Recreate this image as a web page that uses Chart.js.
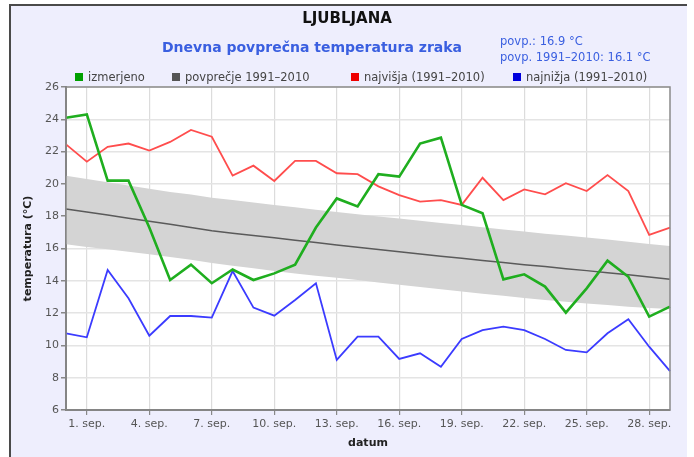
<!DOCTYPE html>
<html>
<head>
<meta charset="utf-8">
<script src="https://cdn.jsdelivr.net/npm/chart.js@4.4.1/dist/chart.umd.min.js"></script>
<style>
  html,body{margin:0;padding:0;background:#fff;}
  #wrap{position:relative;width:694px;height:457px;overflow:hidden;font-family:"DejaVu Sans",Verdana,sans-serif;}
  #panel{position:absolute;left:9px;top:4px;width:678px;height:470px;background:#eeeefd;border-top:2px solid #4a4a4a;border-left:2px solid #4a4a4a;box-sizing:border-box;}
  canvas{position:absolute;left:0;top:0;}
  .t{position:absolute;white-space:nowrap;}
  #title{left:0;width:694px;text-align:center;top:9px;font-size:15px;font-weight:bold;color:#111;}
  #sub{left:160px;width:304px;text-align:center;top:39px;font-size:14px;font-weight:bold;color:#3a5fe0;}
  #info{left:500px;top:33px;font-size:11.5px;line-height:16px;color:#3a5fe0;}
  .lg{position:absolute;top:70px;font-size:11.5px;color:#444;white-space:nowrap;}
  .sq{display:inline-block;width:8px;height:8px;margin-right:5px;vertical-align:0px;}
</style>
</head>
<body>
<div id="wrap">
  <div id="panel"></div>
  <canvas id="c" width="694" height="457"></canvas>
  <div class="t" id="title">LJUBLJANA</div>
  <div class="t" id="sub">Dnevna povprečna temperatura zraka</div>
  <div class="t" id="info">povp.: 16.9 °C<br>povp. 1991–2010: 16.1 °C</div>
  <div class="lg" style="left:75px"><span class="sq" style="background:#00a000"></span>izmerjeno</div>
  <div class="lg" style="left:172px"><span class="sq" style="background:#555"></span>povprečje 1991–2010</div>
  <div class="lg" style="left:351px"><span class="sq" style="background:#ee0000"></span>najvišja (1991–2010)</div>
  <div class="lg" style="left:513px"><span class="sq" style="background:#0000dd"></span>najnižja (1991–2010)</div>
</div>
<script>
const days = ['31. avg.','1. sep.','2. sep.','3. sep.','4. sep.','5. sep.','6. sep.','7. sep.','8. sep.','9. sep.',
  '10. sep.','11. sep.','12. sep.','13. sep.','14. sep.','15. sep.','16. sep.','17. sep.','18. sep.','19. sep.',
  '20. sep.','21. sep.','22. sep.','23. sep.','24. sep.','25. sep.','26. sep.','27. sep.','28. sep.','29. sep.'];
const measured = [24.1,24.3,20.2,20.2,17.3,14.05,15.0,13.85,14.7,14.05,14.46,15.0,17.3,19.1,18.6,20.6,20.45,22.5,22.86,18.7,18.18,14.09,14.4,13.64,12.03,13.53,15.25,14.25,11.78,12.4];
const average = [18.45,18.26,18.07,17.88,17.69,17.5,17.3,17.1,16.95,16.8,16.66,16.51,16.37,16.22,16.08,15.94,15.8,15.66,15.52,15.39,15.26,15.13,15.0,14.88,14.75,14.63,14.5,14.37,14.23,14.1];
const bandUpper = [20.5,20.3,20.1,19.9,19.7,19.5,19.35,19.15,19.0,18.85,18.7,18.55,18.4,18.26,18.12,17.98,17.85,17.72,17.58,17.45,17.32,17.18,17.05,16.92,16.8,16.68,16.55,16.42,16.28,16.15];
const bandLower = [16.26,16.1,15.95,15.8,15.65,15.48,15.3,15.1,14.93,14.77,14.6,14.45,14.32,14.19,14.05,13.9,13.76,13.62,13.48,13.34,13.2,13.07,12.94,12.81,12.7,12.6,12.5,12.4,12.32,12.25];
const highest = [22.45,21.38,22.3,22.5,22.06,22.6,23.34,22.92,20.51,21.13,20.18,21.42,21.42,20.66,20.6,19.85,19.31,18.9,19.0,18.7,20.38,19.0,19.66,19.35,20.04,19.56,20.55,19.56,16.84,17.29];
const lowest = [10.75,10.5,14.67,12.92,10.6,11.82,11.82,11.72,14.6,12.34,11.84,12.81,13.84,9.1,10.54,10.54,9.16,9.51,8.68,10.4,10.95,11.16,10.95,10.4,9.72,9.57,10.75,11.62,9.92,8.41];
const yTicks = [6,8,10,12,14,16,18,20,22,24,26];

const plotBg = {
  id:'plotBg',
  beforeDraw(chart){
    const {ctx, chartArea:a} = chart;
    ctx.save(); ctx.fillStyle='#fff'; ctx.fillRect(a.left,a.top,a.right-a.left,a.bottom-a.top); ctx.restore();
  },
  afterDraw(chart){
    const {ctx, chartArea:a} = chart;
    ctx.save(); ctx.strokeStyle='#8a8a8a'; ctx.lineWidth=1.5;
    ctx.strokeRect(a.left,a.top,a.right-a.left,a.bottom-a.top); ctx.restore();
  }
};

const FAM = '"DejaVu Sans", Verdana, sans-serif';
const tickFont = {family:FAM, size:11};
new Chart(document.getElementById('c'), {
  type:'line',
  data:{
    labels: days,
    datasets:[
      {label:'lower', data:bandLower, borderWidth:0, pointRadius:0, fill:false, order:5, borderColor:'rgba(0,0,0,0)'},
      {label:'upper', data:bandUpper, borderWidth:0, pointRadius:0, fill:'-1', backgroundColor:'#d4d4d4', order:4, borderColor:'rgba(0,0,0,0)'},
      {label:'povprečje 1991–2010', data:average, borderColor:'#5a5a5a', borderWidth:1.5, pointRadius:0, fill:false, order:3},
      {label:'najvišja (1991–2010)', data:highest, borderColor:'#ff4d4d', borderWidth:1.8, pointRadius:0, fill:false, order:2},
      {label:'najnižja (1991–2010)', data:lowest, borderColor:'#3b3bff', borderWidth:1.8, pointRadius:0, fill:false, order:1},
      {label:'izmerjeno', data:measured, borderColor:'#1fae1f', borderWidth:2.6, pointRadius:0, fill:false, order:0}
    ]
  },
  options:{
    responsive:false, animation:false,
    layout:{padding:{left:18, top:87, right:24, bottom:0}},
    plugins:{legend:{display:false}, tooltip:{enabled:false}},
    scales:{
      x:{
        type:'category', offset:false,
        afterFit(s){ s.height = 47; },
        grid:{
          color:(c)=> (c.index%3===1 ? '#dcdcdc' : 'rgba(0,0,0,0)'),
          tickColor:(c)=> (c.index%3===1 ? '#888' : 'rgba(0,0,0,0)'),
          tickLength:5, lineWidth:1.2, drawOnChartArea:true
        },
        border:{display:true, color:'#777', width:2},
        ticks:{autoSkip:false, maxRotation:0, minRotation:0, padding:3, color:'#555', font:tickFont,
          callback:(v,i)=> (i%3===1 ? days[i] : '')},
        title:{display:true, text:'datum', color:'#222', font:{family:FAM, size:11, weight:'bold'}, padding:{top:2,bottom:7}}
      },
      y:{
        min:6, max:26,
        afterFit(s){ s.width = 48; },
        afterBuildTicks(s){ s.ticks = yTicks.map(v=>({value:v})); },
        grid:{color:'#e4e4e4', lineWidth:1.5, tickColor:'#888', tickLength:5},
        border:{display:true, color:'#777', width:2},
        ticks:{padding:2, color:'#555', font:tickFont},
        title:{display:true, text:'temperatura (°C)', color:'#222', font:{family:FAM, size:11, weight:'bold'}, padding:{top:4,bottom:4}}
      }
    }
  },
  plugins:[plotBg]
});
</script>
</body>
</html>
